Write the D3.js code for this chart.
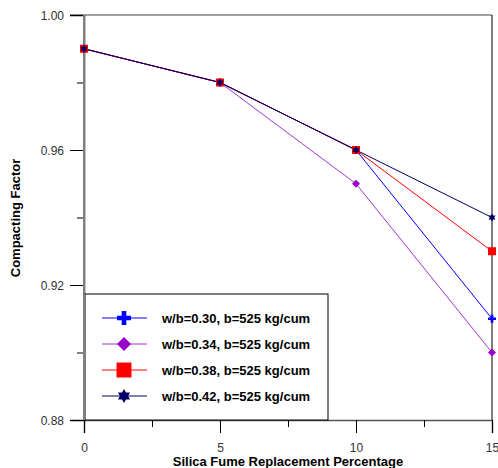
<!DOCTYPE html>
<html><head><meta charset="utf-8">
<script src="https://cdn.jsdelivr.net/npm/d3@7"></script>
<style>body{margin:0;background:#fff}svg{display:block}</style>
</head><body>
<script>
const xValues = [0, 5, 10, 15];
const seriesNames = ["w/b=0.30, b=525 kg/cum", "w/b=0.34, b=525 kg/cum", "w/b=0.38, b=525 kg/cum", "w/b=0.42, b=525 kg/cum"];
const wb030 = [0.99, 0.98, 0.96, 0.91];
const wb034 = [0.99, 0.98, 0.95, 0.90];
const wb038 = [0.99, 0.98, 0.96, 0.93];
const wb042 = [0.99, 0.98, 0.96, 0.94];
const yTicks = [0.88, 0.92, 0.96, 1.00];
const yMinor = [0.90, 0.94, 0.98];
const xTicks = [0, 5, 10, 15];
const xMinor = [2.5, 7.5, 12.5];

const W = 498, H = 468;
const FONT = "Arial, 'Liberation Sans', sans-serif";
const svg = d3.select("body").append("svg").attr("width", W).attr("height", H);
const x = d3.scaleLinear().domain([0, 15]).range([84, 492]);
const y = d3.scaleLinear().domain([0.88, 1.00]).range([420, 15]);

const series = [
  {name: seriesNames[0], vals: wb030, color: "#0000ff", line: "#0000ff", sym: "plus"},
  {name: seriesNames[1], vals: wb034, color: "#9900cc", line: "#a033dd", sym: "diamond"},
  {name: seriesNames[2], vals: wb038, color: "#ff0000", line: "#ff0000", sym: "square"},
  {name: seriesNames[3], vals: wb042, color: "#000066", line: "#000066", sym: "star"}
];

function symPath(type, s) {
  if (type === "plus") {
    const a = s/2, b = s/6;
    return `M${-b},${-a}H${b}V${-b}H${a}V${b}H${b}V${a}H${-b}V${b}H${-a}V${-b}H${-b}Z`;
  }
  if (type === "diamond") { const a = s/2; return `M0,${-a}L${a},0L0,${a}L${-a},0Z`; }
  if (type === "square") { const a = s/2; return `M${-a},${-a}H${a}V${a}H${-a}Z`; }
  const r = s/2;
  const t1 = [0,1,2].map(i => { const ang = -Math.PI/2 + i*2*Math.PI/3; return [r*Math.cos(ang), r*Math.sin(ang)]; });
  const t2 = [0,1,2].map(i => { const ang = Math.PI/2 + i*2*Math.PI/3; return [r*Math.cos(ang), r*Math.sin(ang)]; });
  return "M" + t1.map(p => p.join(",")).join("L") + "Z" + "M" + t2.map(p => p.join(",")).join("L") + "Z";
}

// Frame
svg.append("line").attr("x1", 70).attr("x2", 492).attr("y1", 15).attr("y2", 15).attr("stroke", "#808080").attr("stroke-width", 1.5);
svg.append("line").attr("x1", 492).attr("x2", 492).attr("y1", 15).attr("y2", 420).attr("stroke", "#000").attr("stroke-width", 1);

// Y axis
const yAxis = d3.axisLeft(y).tickValues(yTicks).tickFormat(d3.format(".2f")).tickSize(14).tickPadding(6);
const gy = svg.append("g").attr("transform", "translate(84,0)").call(yAxis);
gy.select(".domain").attr("stroke", "#808080").attr("stroke-width", 2);
gy.selectAll(".tick line").attr("stroke", "#000");
gy.selectAll(".tick text").attr("font-family", FONT).attr("font-size", 12).attr("fill", "#333").attr("dy", "0.4em");
const yAxisMinor = d3.axisLeft(y).tickValues(yMinor).tickFormat("").tickSize(7);
const gym = svg.append("g").attr("transform", "translate(84,0)").call(yAxisMinor);
gym.select(".domain").remove();
gym.selectAll(".tick line").attr("stroke", "#000");

// X axis
const xAxis = d3.axisBottom(x).tickValues(xTicks).tickFormat(d3.format("d")).tickSize(13).tickPadding(10);
const gx = svg.append("g").attr("transform", "translate(0,420)").call(xAxis);
gx.select(".domain").attr("stroke", "#555").attr("stroke-width", 1.5);
gx.selectAll(".tick line").attr("stroke", "#000");
gx.selectAll(".tick text").attr("font-family", FONT).attr("font-size", 12).attr("fill", "#333");
const xAxisMinor = d3.axisBottom(x).tickValues(xMinor).tickFormat("").tickSize(7);
const gxm = svg.append("g").attr("transform", "translate(0,420)").call(xAxisMinor);
gxm.select(".domain").remove();
gxm.selectAll(".tick line").attr("stroke", "#000");

svg.append("line").attr("x1", 84).attr("x2", 84).attr("y1", 15).attr("y2", 420).attr("stroke", "#808080").attr("stroke-width", 2);

// Axis titles
svg.append("text").attr("x", 288).attr("y", 466).attr("text-anchor", "middle")
  .attr("font-family", FONT).attr("font-size", 13).attr("font-weight", "bold")
  .text("Silica Fume Replacement Percentage");
svg.append("text").attr("transform", "translate(20,218) rotate(-90)").attr("text-anchor", "middle")
  .attr("font-family", FONT).attr("font-size", 13).attr("font-weight", "bold")
  .text("Compacting Factor");

// Lines
const lineGen = d3.line().x((d, i) => x(xValues[i])).y(d => y(d));
series.forEach(s => {
  svg.append("path").datum(s.vals).attr("d", lineGen).attr("fill", "none").attr("stroke", s.line).attr("stroke-width", 1);
});
series.forEach(s => {
  svg.append("g").selectAll("path").data(s.vals).join("path")
    .attr("transform", (d, i) => `translate(${x(xValues[i])},${y(d)})`)
    .attr("d", symPath(s.sym, 8)).attr("fill", s.color);
});

// Legend
const lg = svg.append("g");
lg.append("rect").attr("x", 85).attr("y", 294).attr("width", 243).attr("height", 126)
  .attr("fill", "#fff").attr("stroke", "#000").attr("stroke-width", 1);
svg.append("line").attr("x1", 84).attr("x2", 84).attr("y1", 294).attr("y2", 420).attr("stroke", "#808080").attr("stroke-width", 2);
series.forEach((s, i) => {
  const yy = 318 + i * 26;
  lg.append("line").attr("x1", 102).attr("x2", 147).attr("y1", yy).attr("y2", yy).attr("stroke", s.line).attr("stroke-width", 1);
  const sz = s.sym === "square" ? 15 : 14;
  lg.append("path").attr("transform", `translate(124,${yy})`).attr("d", symPath(s.sym, sz)).attr("fill", s.color);
  lg.append("text").attr("x", 162).attr("y", yy + 5)
    .attr("font-family", FONT).attr("font-size", 13).attr("font-weight", "bold")
    .text(s.name);
});
</script>
</body></html>
